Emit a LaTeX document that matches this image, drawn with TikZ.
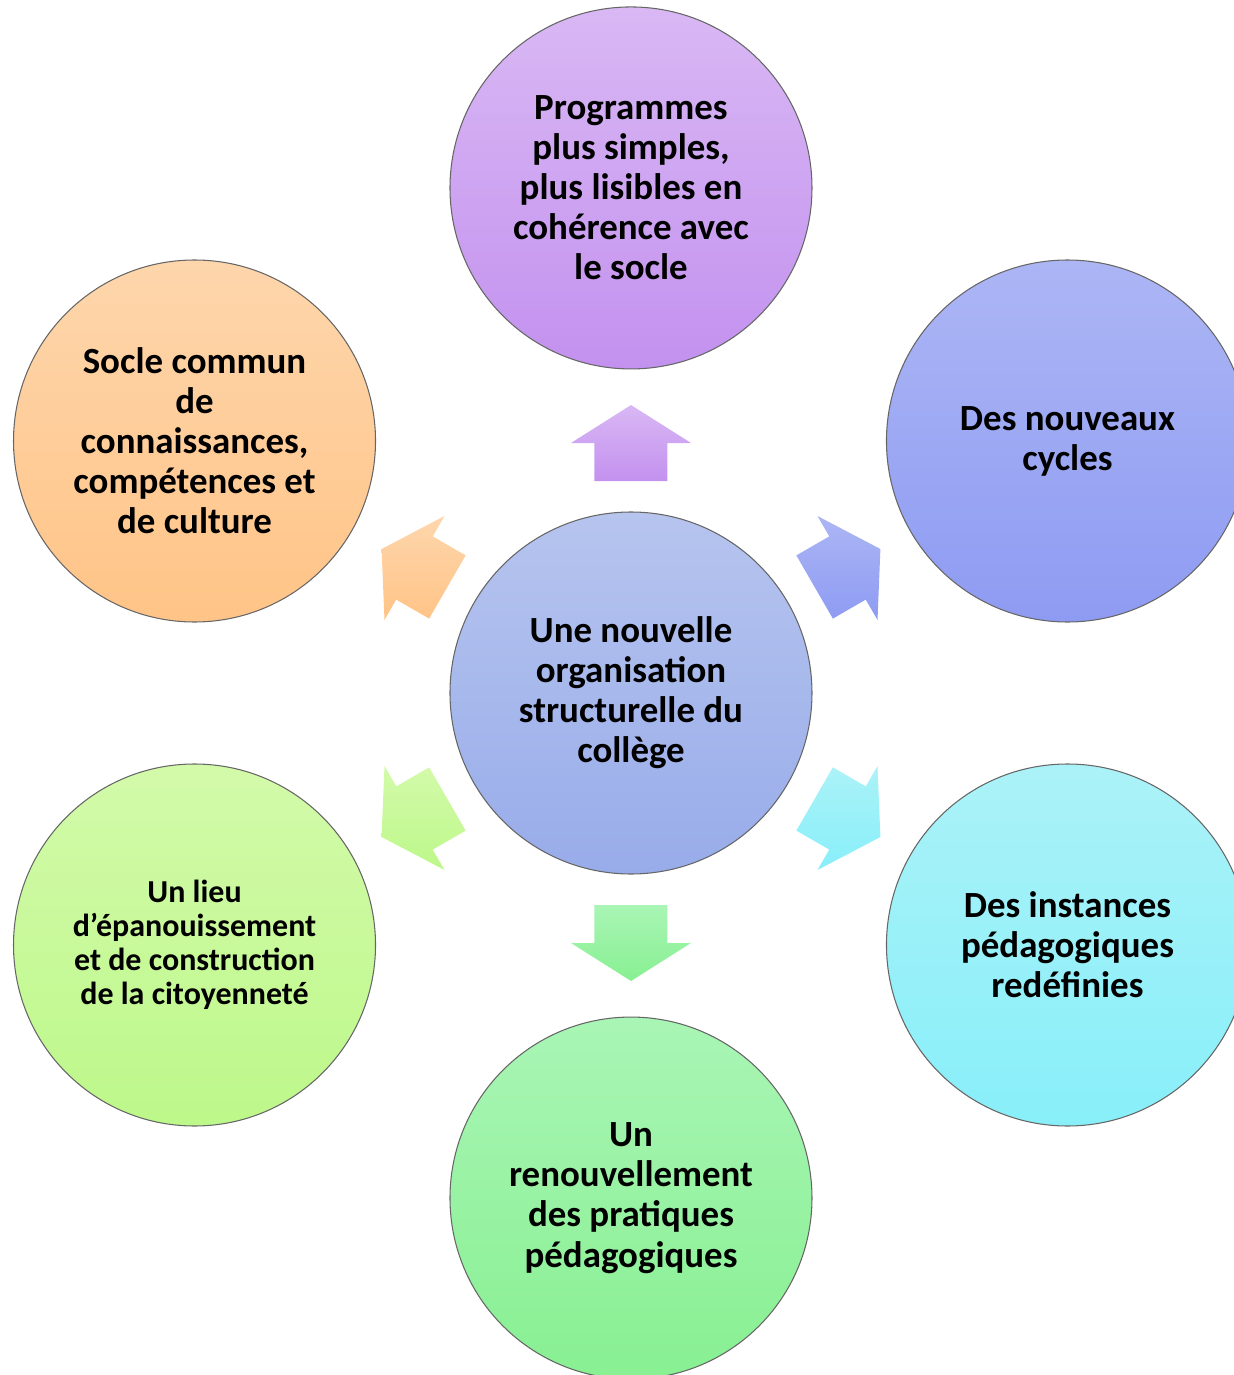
\documentclass[tikz,border=0pt]{standalone}
\usepackage{fontspec}
\setmainfont{Carlito}
\usepackage{tikz}
\usetikzlibrary{positioning}

\definecolor{tctr}{HTML}{B6C4EE}\definecolor{bctr}{HTML}{98ACEA}
\definecolor{tprog}{HTML}{D9B8F4}\definecolor{bprog}{HTML}{C391EF}
\definecolor{tcyc}{HTML}{ACB6F5}\definecolor{bcyc}{HTML}{8E9BF2}
\definecolor{tinst}{HTML}{ABF2F8}\definecolor{binst}{HTML}{88EFF9}
\definecolor{tren}{HTML}{A9F5B5}\definecolor{bren}{HTML}{88F092}
\definecolor{tlieu}{HTML}{D3FAAA}\definecolor{blieu}{HTML}{BDF88A}
\definecolor{tsocle}{HTML}{FED6AC}\definecolor{bsocle}{HTML}{FFC487}

\begin{document}
\begin{tikzpicture}[
  bubble/.style={circle,draw=black!60,line width=0.6pt,minimum size=7.24cm,inner sep=0pt,
    align=center,font=\fontsize{21}{22.8}\selectfont\bfseries},
  small/.style={font=\fontsize{18.2}{19.4}\selectfont\bfseries}]
	\useasboundingbox (-12.62,-13.64) rectangle (12.06,13.86);
	% centre
	\node[bubble,top color=tctr,bottom color=bctr] (ctr) at (0,0) {Une nouvelle\\organisation\\structurelle du\\collège};
	% satellites
	\node[bubble,top color=tprog,bottom color=bprog,above=2.84cm of ctr] (prog) {Programmes\\plus simples,\\plus lisibles en\\cohérence avec\\le socle};
	\node[bubble,top color=tcyc,bottom color=bcyc] (cyc) at (30:10.08) {Des nouveaux\\cycles};
	\node[bubble,top color=tinst,bottom color=binst] (inst) at (-30:10.08) {Des instances\\pédagogiques\\redéfinies};
	\node[bubble,top color=tren,bottom color=bren,below=2.84cm of ctr] (ren) {Un\\renouvellement\\des pratiques\\pédagogiques};
	\node[bubble,small,top color=tlieu,bottom color=blieu] (lieu) at (-150:10.08) {Un lieu\\d’épanouissement\\et de construction\\de la citoyenneté};
	\node[bubble,top color=tsocle,bottom color=bsocle] (socle) at (150:10.08) {Socle commun\\de\\connaissances,\\compétences et\\de culture};
	% block arrows
	\foreach \a/\c in {90/prog,30/cyc,-30/inst,-90/ren,-150/lieu,150/socle}
		\shade[top color=t\c,bottom color=b\c] ([shift={(\a-90:0.73)}]\a:4.24) -- ([shift={(\a-90:0.73)}]\a:5)
			-- ([shift={(\a-90:1.2)}]\a:5) -- (\a:5.76) -- ([shift={(\a+90:1.2)}]\a:5)
			-- ([shift={(\a+90:0.73)}]\a:5) -- ([shift={(\a+90:0.73)}]\a:4.24) -- cycle;
\end{tikzpicture}
\end{document}
